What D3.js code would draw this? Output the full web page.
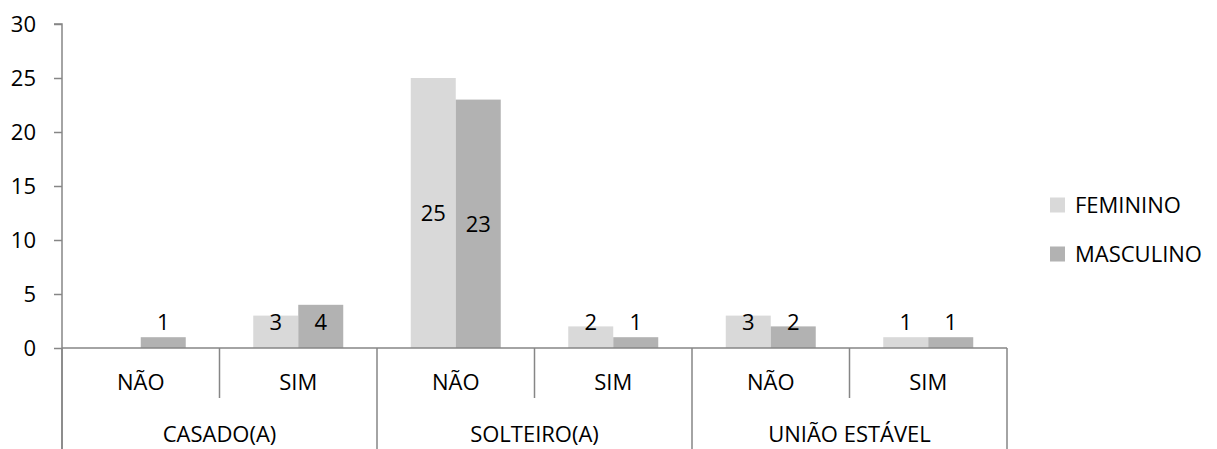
<!DOCTYPE html>
<html>
<head>
<meta charset="utf-8">
<script src="https://cdn.jsdelivr.net/npm/d3@7"></script>
<style>
  html, body { margin: 0; padding: 0; background: #fff; }
  svg text { font-family: "Open Sans", "Liberation Sans", sans-serif; fill: #000; }
</style>
</head>
<body>
<svg id="chart" width="1217" height="449"></svg>
<script>
// Marital status groups, each split into NÃO / SIM answers
const groups = ["CASADO(A)", "SOLTEIRO(A)", "UNIÃO ESTÁVEL"];
const answers = ["NÃO", "SIM"];
const series = ["FEMININO", "MASCULINO"];
const feminino = [null, 3, 25, 2, 3, 1];
const masculino = [1, 4, 23, 1, 2, 1];
const yTicks = [0, 5, 10, 15, 20, 25, 30];
const colors = ["#d9d9d9", "#b2b2b2"];

const svg = d3.select("#chart");
const plotLeft = 62, plotRight = 1007, plotTop = 24, plotBottom = 348;
const axisColor = "#868686";
const fontSize = 22;

// One band per (group, answer) pair
const cells = [];
groups.forEach((g, gi) => answers.forEach((a, ai) => {
  const i = gi * answers.length + ai;
  cells.push({ key: g + "|" + a, group: g, answer: a, values: [feminino[i], masculino[i]] });
}));

const x0 = d3.scaleBand().domain(cells.map(d => d.key)).range([plotLeft, plotRight]).paddingInner(0).paddingOuter(0);
const x1 = d3.scaleBand().domain(series).range([0, x0.bandwidth()]).paddingInner(0).paddingOuter(0.75);
const y = d3.scaleLinear().domain([0, 30]).range([plotBottom, plotTop]);

// Bars
const cellG = svg.append("g").selectAll("g").data(cells).join("g")
  .attr("transform", d => `translate(${x0(d.key)},0)`);

cellG.selectAll("rect")
  .data(d => d.values.map((v, i) => ({ s: series[i], v, i })).filter(e => e.v != null))
  .join("rect")
  .attr("x", e => x1(e.s))
  .attr("width", x1.bandwidth())
  .attr("y", e => y(e.v))
  .attr("height", e => y(0) - y(e.v))
  .attr("fill", e => colors[e.i]);

// Value labels: centred in tall bars, lifted above short ones
cellG.selectAll("text.val")
  .data(d => d.values.map((v, i) => ({ s: series[i], v, i })).filter(e => e.v != null))
  .join("text")
  .attr("class", "val")
  .attr("x", e => x1(e.s) + x1.bandwidth() / 2)
  .attr("y", e => Math.min((y(e.v) + y(0)) / 2, y(0) - 26))
  .attr("dy", "0.35em")
  .attr("text-anchor", "middle")
  .style("font-size", fontSize + "px")
  .text(e => e.v);

// Y axis
const yAxis = d3.axisLeft(y).tickValues(yTicks).tickSize(8).tickPadding(18);
const yg = svg.append("g").attr("transform", `translate(${plotLeft},0)`).call(yAxis);
yg.select(".domain").attr("stroke", axisColor).attr("stroke-width", 1.5).attr("d", `M-8,${plotTop}H0V${449}`);
yg.selectAll(".tick line").attr("stroke", axisColor).attr("stroke-width", 1.5);
yg.selectAll(".tick text").style("font-size", fontSize + "px").attr("fill", "#000");

// X baseline
svg.append("line")
  .attr("x1", plotLeft).attr("x2", plotRight).attr("y1", y(0)).attr("y2", y(0))
  .attr("stroke", axisColor).attr("stroke-width", 1.5);

// Dividers between answers (short) and between groups (full height)
const bounds = cells.map((d, i) => ({ x: x0(d.key), groupEdge: i % answers.length === 0 }));
bounds.push({ x: plotRight, groupEdge: true });
svg.append("g").selectAll("line").data(bounds).join("line")
  .attr("x1", d => d.x).attr("x2", d => d.x)
  .attr("y1", y(0)).attr("y2", d => d.groupEdge ? 449 : 398)
  .attr("stroke", axisColor).attr("stroke-width", 1.5);

// Answer labels
svg.append("g").selectAll("text").data(cells).join("text")
  .attr("x", d => x0(d.key) + x0.bandwidth() / 2)
  .attr("y", 390)
  .attr("text-anchor", "middle")
  .style("font-size", fontSize + "px")
  .text(d => d.answer);

// Group labels
svg.append("g").selectAll("text").data(groups).join("text")
  .attr("x", (g, gi) => {
    const a = x0(cells[gi * answers.length].key);
    return a + x0.bandwidth() * answers.length / 2;
  })
  .attr("y", 442)
  .attr("text-anchor", "middle")
  .style("font-size", fontSize + "px")
  .text(g => g);

// Legend
const legend = svg.append("g").selectAll("g").data(series).join("g")
  .attr("transform", (s, i) => `translate(1050,${205 + i * 49})`);
legend.append("rect").attr("x", 0).attr("y", -7.5).attr("width", 15).attr("height", 15)
  .attr("fill", (s, i) => colors[i]);
legend.append("text").attr("x", 25).attr("y", 0).attr("dy", "0.35em")
  .style("font-size", fontSize + "px")
  .text(s => s);
</script>
</body>
</html>
